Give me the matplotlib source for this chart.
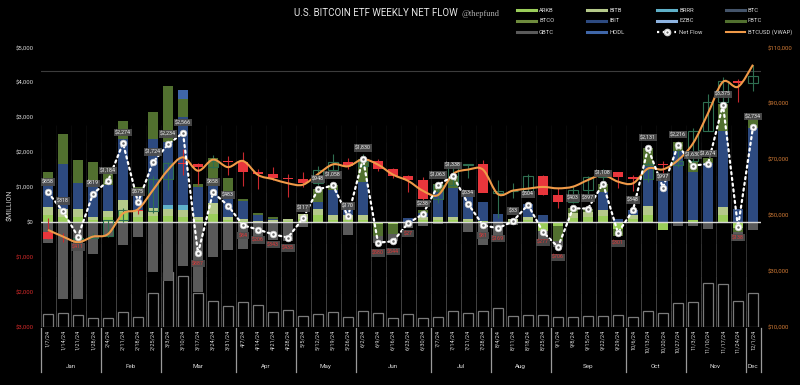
import numpy as np
import matplotlib
matplotlib.use("Agg")
import matplotlib.pyplot as plt
from matplotlib.path import Path
from matplotlib.patches import PathPatch
from matplotlib.lines import Line2D
from matplotlib.collections import LineCollection

plt.rcParams['font.family'] = ['Roboto', 'DejaVu Sans']

# ---------------- data ----------------
weeks = ["1/7/24", "1/14/24", "1/21/24", "1/28/24", "2/4/24", "2/11/24", "2/18/24", "2/25/24",
         "3/3/24", "3/10/24", "3/17/24", "3/24/24", "3/31/24", "4/7/24", "4/14/24", "4/21/24",
         "4/28/24", "5/5/24", "5/12/24", "5/19/24", "5/26/24", "6/2/24", "6/9/24", "6/16/24",
         "6/23/24", "6/30/24", "7/7/24", "7/14/24", "7/21/24", "7/28/24", "8/4/24", "8/11/24",
         "8/18/24", "8/25/24", "9/1/24", "9/8/24", "9/15/24", "9/22/24", "9/29/24", "10/6/24",
         "10/13/24", "10/20/24", "10/27/24", "11/3/24", "11/10/24", "11/17/24", "11/24/24", "12/1/24"]
month_names = ["Jan", "Feb", "Mar", "Apr", "May", "Jun", "Jul", "Aug", "Sep", "Oct", "Nov", "Dec"]

arkb = [200, 150, 150, 60, 150, 300, 150, 170, 170, 140, 60, 250, 70, 40, 20, 20, 30, 100, 200, 80, 80, 80,
        -60, -40, 0, 60, 60, 60, 40, 30, 0, 50, 60, -260, -100, 120, 150, 170, -200, 100, 200, -229, 0, 57,
        0, 200, -150, 0]
bitb = [230, 240, 220, 90, 190, 330, 200, 230, 220, 203, 92, 300, 82, 65, 30, 40, 56, 140, 190, 120, 120, 120,
        0, 0, 0, 80, 92, 90, 65, 0, 0, 55, 90, 0, 0, 150, 150, 173, 0, 110, 258, 0, 0, 0, 0, 238, 0, 0]
brrr = [0] * 8 + [96, 143] + [0] * 38
btc = [0] * 48
btco = [0] * 48
ibit = [777, 1270, 770, 1020, 720, 1760, 520, 1990, 1811, 2524, 858, 500, 715, 500, 150, 50, 0, 0, 190, 715,
        335, 952, 0, 0, 130, 130, 715, 850, 695, 550, 248, 0, 385, 200, 0, 0, 0, 524, 95, 138, 1172, 1226,
        2060, 1390, 1700, 2193, 391, 2700]
ezbc = [0] * 48
fbtc = [230, 860, 660, 555, 520, 527, 135, 765, 1623, 527, 96, 800, 410, 72, 76, 42, 0, 0, 383, 143, 0, 678,
        -330, -300, 0, 73, 239, 338, 0, 0, 0, 0, 0, 0, -420, 133, 97, 241, -196, 0, 501, 0, 256, 300, 154,
        764, -127, 250]
gbtc = [-579, -2202, -2211, -906, -396, -643, -430, -1431, -1686, -1238, -1993, -992, -794, -761, -482, -495,
        -521, -123, -15, 0, -365, 0, -190, -204, -157, -105, -43, 0, -266, -661, -417, -72, -31, -217, -186,
        0, 0, 0, 0, 0, 0, 0, -100, -117, -180, -20, -252, -216]
hodl = [0] * 9 + [267] + [0] * 38

net_flow = [858, 318, -411, 819, 1184, 2274, 575, 1724, 2234, 2566, -887, 858, 483, -84, -206, -343, -435,
            117, 948, 1058, 170, 1830, -580, -544, -27, 238, 1063, 1338, 534, -81, -169, 33, 504, -277, -706,
            403, 397, 1108, -301, 348, 2131, 997, 2216, 1630, 1674, 3375, -138, 2734]

# weekly volume, drawn up from the -$3,000 floor (same $M scale)
volume = [363, 391, 343, 267, 248, 419, 296, 982, 1573, 1459, 982, 744, 610, 706, 629, 419, 486, 324, 372,
          419, 277, 467, 391, 248, 372, 267, 296, 458, 391, 467, 553, 315, 343, 343, 296, 277, 324, 315, 343,
          296, 467, 410, 677, 706, 1268, 1221, 753, 972]

btc_open = [43900, 41700, 41600, 42000, 42600, 48300, 52100, 51700, 63100, 68900, 68400, 67200, 69600, 69300,
            65700, 64900, 63400, 63000, 61500, 66300, 69000, 67800, 69600, 66600, 64200, 62700, 55800, 60800,
            68100, 68300, 58200, 58700, 58800, 64100, 57300, 54800, 59100, 63600, 65600, 63800, 62900, 68400,
            67900, 69500, 80400, 90600, 98000, 97300]
btc_high = [49000, 43600, 42200, 43800, 48200, 52800, 52900, 64000, 69000, 73800, 68900, 71700, 71300, 72800,
            66800, 67200, 64700, 65500, 67700, 71900, 70600, 71900, 70200, 67000, 64500, 63800, 59500, 68300,
            68500, 70000, 62700, 61700, 65000, 64500, 59800, 60600, 64100, 66500, 65600, 64500, 69000, 69500,
            73600, 81500, 93400, 99500, 98800, 104000]
btc_low = [41500, 40300, 38500, 41900, 42300, 47700, 50600, 50900, 59000, 64500, 60800, 66900, 64500, 60700,
           59600, 62800, 56500, 60200, 60800, 66100, 66600, 67600, 66000, 63400, 58400, 53500, 54300, 60600,
           63500, 58500, 49000, 56100, 57800, 57200, 52600, 54600, 57500, 62800, 59800, 58900, 62100, 65000,
           67500, 66800, 80200, 88800, 90800, 94600]
btc_close = [41700, 41600, 42000, 42600, 48300, 52100, 51700, 63100, 68900, 68400, 67200, 69600, 69300, 65700,
             64900, 63400, 63000, 61500, 66300, 69000, 67800, 69600, 66600, 64200, 62700, 55800, 60800, 68100,
             68300, 58200, 58700, 58800, 64100, 57300, 54800, 59100, 63600, 65600, 63800, 62900, 68400, 67900,
             69500, 80400, 90600, 98000, 97300, 99800]
btc_vwap = [44800, 42400, 40400, 42400, 43300, 50700, 52200, 59100, 66300, 70800, 66000, 70000, 67300, 69500,
            64500, 63000, 61500, 61000, 64800, 68300, 67600, 70100, 68200, 64600, 62400, 58800, 57300, 64800,
            66400, 66400, 57600, 58900, 59600, 60200, 59700, 60300, 62700, 64500, 62100, 61500, 66800, 66500,
            69800, 75800, 86600, 97900, 96100, 104000]

series = [("ARKB", arkb, "#9acd5a"), ("BITB", bitb, "#b5c98a"), ("BRRR", brrr, "#5fb0c8"),
          ("BTC", btc, "#44546a"), ("BTCO", btco, "#6e8b3d"), ("IBIT", ibit, "#2d4a80"),
          ("EZBC", ezbc, "#8db3e0"), ("FBTC", fbtc, "#51702f"), ("GBTC", gbtc, "#5a5a5a"),
          ("HODL", hodl, "#3f66a8")]

# ---------------- figure ----------------
BG = "black"
fig = plt.figure(figsize=(8, 3.85), dpi=100, facecolor=BG)
ax = fig.add_axes([40.5 / 800, 58 / 385, 720 / 800, 279 / 385])
ax.set_facecolor("none")
n = len(weeks)
x = np.arange(n)
ax.set_xlim(-0.5, n - 0.5)
ax.set_ylim(-3000, 5000)
for s in ax.spines.values():
    s.set_visible(False)

# faded vertical separators
segs, cols = [], []
levels = np.linspace(-3000, 2800, 13)
for b in np.arange(-0.5, n, 1.0):
    for k in range(len(levels) - 1):
        segs.append([(b, levels[k]), (b, levels[k + 1])])
        a = 0.5 * (1 - k / (len(levels) - 1)) + 0.03
        cols.append((0.62, 0.62, 0.62, a))
ax.add_collection(LineCollection(segs, colors=cols, linewidths=0.6, zorder=0))

ax.axhline(4340, color="#3c3c3c", lw=0.8, zorder=0)

# volume hollow bars
ax.bar(x, volume, bottom=-3000, width=0.68, facecolor="none", edgecolor="#7a7a7a", lw=0.9, zorder=1)

# stacked flows
pos_base = np.zeros(n)
neg_base = np.zeros(n)
for name, vals, col in series:
    v = np.asarray(vals, dtype=float)
    p = np.where(v > 0, v, 0)
    q = np.where(v < 0, v, 0)
    ax.bar(x, p, bottom=pos_base, width=0.68, color=col, lw=0, zorder=2)
    ax.bar(x, q, bottom=neg_base, width=0.68, color=col, lw=0, zorder=2)
    pos_base += p
    neg_base += q

ax.axhline(0, color="#d8d8d8", lw=1.0, zorder=3)

# left axis
lt = list(range(-3000, 5001, 1000))
ax.set_yticks(lt)
ax.set_yticklabels([f"${abs(v):,}" for v in lt])
ax.tick_params(axis="y", length=0, pad=5, labelsize=4.3)
for lab, v in zip(ax.get_yticklabels(), lt):
    lab.set_color("#d42a2a" if v < 0 else "#d8d8d8")
ax.set_xticks([])
fig.text(10 / 800, 1 - 205 / 385, "$MILLION", rotation=90, color="#cfcfcf", fontsize=5,
         ha="center", va="center")

# price axis
ax2 = ax.twinx()
ax2.set_facecolor("none")
for s in ax2.spines.values():
    s.set_visible(False)
o = np.asarray(btc_open, float); c = np.asarray(btc_close, float)
h = np.asarray(btc_high, float); l = np.asarray(btc_low, float)
up = c >= o
ax2.vlines(x[up], l[up], h[up], color="#2e6e50", lw=0.8, zorder=4)
ax2.vlines(x[~up], l[~up], h[~up], color="#c8282e", lw=0.8, zorder=4)
ax2.bar(x[up], (c - o)[up], bottom=o[up], width=0.7, facecolor="none", edgecolor="#2e6e50", lw=0.8, zorder=4)
ax2.bar(x[~up], (o - c)[~up], bottom=c[~up], width=0.7, color="#e8363c", lw=0, zorder=4)

# smoothed VWAP path (Catmull-Rom through the weekly values)
pts = np.column_stack([x, np.asarray(btc_vwap, float)])
verts = [tuple(pts[0])]
codes = [Path.MOVETO]
for i in range(len(pts) - 1):
    p0 = pts[i - 1] if i > 0 else pts[i]
    p1 = pts[i]; p2 = pts[i + 1]
    p3 = pts[i + 2] if i + 2 < len(pts) else pts[i + 1]
    verts += [tuple(p1 + (p2 - p0) / 6), tuple(p2 - (p3 - p1) / 6), tuple(p2)]
    codes += [Path.CURVE4] * 3
ax2.add_patch(PathPatch(Path(verts, codes), facecolor="none", edgecolor="#f09a48", lw=1.5, zorder=5))

ax2.set_ylim(10000, 110000)
rt = list(range(10000, 110001, 20000))
ax2.set_yticks(rt)
ax2.set_yticklabels([f"${v:,}" for v in rt])
ax2.tick_params(axis="y", length=0, pad=5, labelsize=4.3, labelcolor="#d07a35")
ax2.set_xlim(-0.5, n - 0.5)

# net flow line with labels (left-axis units)
ax2.plot(x, net_flow, transform=ax.transData, ls=(0, (1, 1.6)), color="white", lw=1.6, zorder=6,
         dash_capstyle="round")
ax2.plot(x, net_flow, transform=ax.transData, ls="none", marker="o", ms=4.8, mfc="white", mec="#cfcfcf",
         mew=0.5, zorder=7)
ax2.plot(x, net_flow, transform=ax.transData, ls="none", marker="o", ms=1.8, mfc="#6a6a6a", mec="none",
         zorder=8)
for i, v in enumerate(net_flow):
    if v >= 0:
        tc, dy = "#eeeeee", 7.5
    else:
        tc, dy = "#e03a3a", -7.5
    ax2.annotate(f"${abs(v):,}", xy=(i, v), xycoords=ax.transData, xytext=(0, dy),
                 textcoords="offset points", ha="center", va="center", fontsize=3.9, color=tc, zorder=9,
                 bbox=dict(boxstyle="square,pad=0.22", fc="#4d4d4d", ec="none", alpha=0.92))

# x labels, month groups
for i, w in enumerate(weeks):
    ax.text(i, -0.01, w, transform=ax.get_xaxis_transform(), rotation=90, ha="center", va="top",
            fontsize=4.0, color="#d8d8d8", clip_on=False)
months = [int(w.split("/")[0]) for w in weeks]
bounds = [-0.5]
for i in range(1, n):
    if months[i] != months[i - 1]:
        bounds.append(i - 0.5)
bounds.append(n - 0.5)
for b in bounds:
    ax.plot([b, b], [-0.004, -0.161], transform=ax.get_xaxis_transform(), color="#9a9a9a", lw=0.9,
            clip_on=False)
for a, b in zip(bounds[:-1], bounds[1:]):
    mi = months[int(a + 0.5)]
    ax.text((a + b) / 2, -0.14, month_names[mi - 1], transform=ax.get_xaxis_transform(), ha="center",
            va="center", fontsize=4.5, color="#dddddd", clip_on=False)

# title
fig.text(458 / 800, 1 - 13 / 385, "U.S. BITCOIN ETF WEEKLY NET FLOW", ha="right", va="center",
         fontsize=7, color="#e6e6e6")
fig.text(461 / 800, 1 - 14 / 385, "@thepfund", ha="left", va="center", fontsize=6,
         color="#b0b0b0", family=["Liberation Serif", "DejaVu Serif"])

# legend (manual, 4 columns)
colx = [517, 587, 657, 726]
rowy = [10, 21, 32]
entries = [s[0] for s in series] + ["Net Flow", "BTCUSD (VWAP)"]
colors = {s[0]: s[2] for s in series}
for k, name in enumerate(entries):
    r, cidx = divmod(k, 4)
    x0 = colx[cidx] / 800; x1 = (colx[cidx] + 19) / 800
    yy = 1 - rowy[r] / 385
    if name == "Net Flow":
        fig.add_artist(Line2D([x0, x1], [yy, yy], transform=fig.transFigure, ls=(0, (1, 1.6)), color="white",
                              lw=1.6))
        fig.add_artist(Line2D([(x0 + x1) / 2], [yy], transform=fig.transFigure, marker="o", ms=4.5,
                              mfc="white", mec="#cfcfcf", ls="none"))
        fig.add_artist(Line2D([(x0 + x1) / 2], [yy], transform=fig.transFigure, marker="o", ms=1.6,
                              mfc="#6a6a6a", mec="none", ls="none"))
    elif name == "BTCUSD (VWAP)":
        fig.add_artist(Line2D([x0, x1], [yy, yy], transform=fig.transFigure, color="#f09a48", lw=1.5))
    else:
        fig.add_artist(Line2D([x0, x1], [yy, yy], transform=fig.transFigure, color=colors[name], lw=2.2))
    fig.text((colx[cidx] + 22) / 800, yy, name, ha="left", va="center", fontsize=4.2, color="#d8d8d8")

fig.savefig("out.png", dpi=100, facecolor=BG)
